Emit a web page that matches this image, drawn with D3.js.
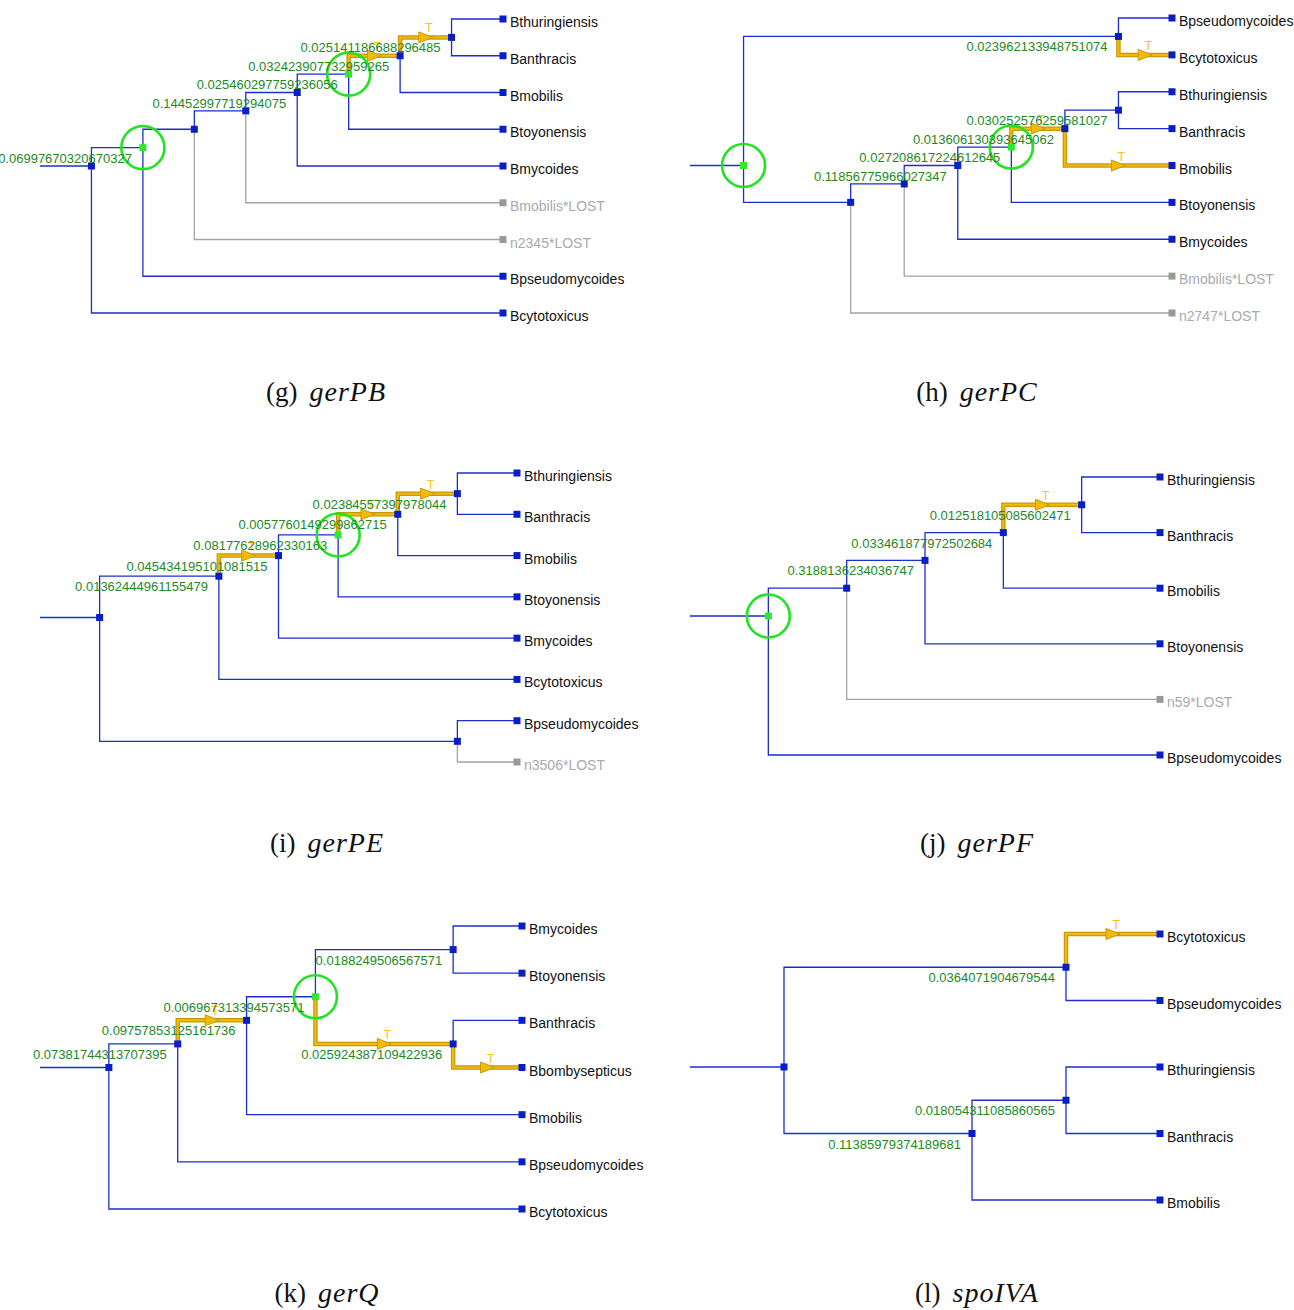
<!DOCTYPE html>
<html>
<head>
<meta charset="utf-8">
<script src="https://cdn.jsdelivr.net/npm/d3@7"></script>
<style>
  body { margin: 0; background: #fff; }
  svg { display: block; }
</style>
</head>
<body>
<svg id="chart" width="1294" height="1310"></svg>
<script>
// Gene trees: each row is [node, parent, branch value, event]
// event: "T" = transfer edge, "dup" = circled node, "lost" = lost leaf
const gerPB = [
  ["r", "", "", ""],
  ["n1", "r", "0.06997670320670327", "dup"],
  ["n2", "n1", "", ""],
  ["n3", "n2", "", ""],
  ["n4", "n3", "0.14452997719294075", ""],
  ["n5", "n4", "0.025460297759236056", "dup"],
  ["n6", "n5", "0.032423907732959265", "T"],
  ["n7", "n6", "0.025141186688296485", "T"],
  ["Bthuringiensis", "n7", "", ""],
  ["Banthracis", "n7", "", ""],
  ["Bmobilis", "n6", "", ""],
  ["Btoyonensis", "n5", "", ""],
  ["Bmycoides", "n4", "", ""],
  ["Bmobilis*LOST", "n3", "", "lost"],
  ["n2345*LOST", "n2", "", "lost"],
  ["Bpseudomycoides", "n1", "", ""],
  ["Bcytotoxicus", "r", "", ""]
];

const gerPC = [
  ["r", "", "", "dup"],
  ["a", "r", "0.023962133948751074", ""],
  ["Bpseudomycoides", "a", "", ""],
  ["Bcytotoxicus", "a", "", "T"],
  ["b", "r", "", ""],
  ["c", "b", "", ""],
  ["d", "c", "0.11856775966027347", ""],
  ["e", "d", "0.027208617224612645", "dup"],
  ["f", "e", "0.013606130393645062", "T"],
  ["g", "f", "0.030252576259581027", ""],
  ["Bthuringiensis", "g", "", ""],
  ["Banthracis", "g", "", ""],
  ["Bmobilis", "f", "", "T"],
  ["Btoyonensis", "e", "", ""],
  ["Bmycoides", "d", "", ""],
  ["Bmobilis*LOST", "c", "", "lost"],
  ["n2747*LOST", "b", "", "lost"]
];

const gerPE = [
  ["r", "", "", ""],
  ["a", "r", "0.01362444961155479", ""],
  ["b", "a", "0.045434195101081515", "T"],
  ["c", "b", "0.08177628962330163", "dup"],
  ["d", "c", "0.0057760149299862715", "T"],
  ["e", "d", "0.02384557397978044", "T"],
  ["Bthuringiensis", "e", "", ""],
  ["Banthracis", "e", "", ""],
  ["Bmobilis", "d", "", ""],
  ["Btoyonensis", "c", "", ""],
  ["Bmycoides", "b", "", ""],
  ["Bcytotoxicus", "a", "", ""],
  ["f", "r", "", ""],
  ["Bpseudomycoides", "f", "", ""],
  ["n3506*LOST", "f", "", "lost"]
];

const gerPF = [
  ["r", "", "", "dup"],
  ["a", "r", "", ""],
  ["b", "a", "0.3188136234036747", ""],
  ["c", "b", "0.033461877972502684", ""],
  ["d", "c", "0.012518105085602471", "T"],
  ["Bthuringiensis", "d", "", ""],
  ["Banthracis", "d", "", ""],
  ["Bmobilis", "c", "", ""],
  ["Btoyonensis", "b", "", ""],
  ["n59*LOST", "a", "", "lost"],
  ["Bpseudomycoides", "r", "", ""]
];

const gerQ = [
  ["r", "", "", ""],
  ["a", "r", "0.07381744313707395", ""],
  ["b", "a", "0.09757853125161736", "T"],
  ["c", "b", "0.006967313394573571", "dup"],
  ["d", "c", "0.0188249506567571", ""],
  ["Bmycoides", "d", "", ""],
  ["Btoyonensis", "d", "", ""],
  ["e", "c", "0.025924387109422936", "T"],
  ["Banthracis", "e", "", ""],
  ["Bbombysepticus", "e", "", "T"],
  ["Bmobilis", "b", "", ""],
  ["Bpseudomycoides", "a", "", ""],
  ["Bcytotoxicus", "r", "", ""]
];

const spoIVA = [
  ["r", "", "", ""],
  ["a", "r", "0.0364071904679544", ""],
  ["Bcytotoxicus", "a", "", "T"],
  ["Bpseudomycoides", "a", "", ""],
  ["b", "r", "0.11385979374189681", ""],
  ["c", "b", "0.018054311085860565", ""],
  ["Bthuringiensis", "c", "", ""],
  ["Banthracis", "c", "", ""],
  ["Bmobilis", "b", "", ""]
];

const genes = ["gerPB", "gerPC", "gerPE", "gerPF", "gerQ", "spoIVA"];
const tags = ["g", "h", "i", "j", "k", "l"];

// panel placement
const panels = [
  { rows: gerPB, x0: 40, leafX: 503, yTop: 19, yBot: 313, capX: 326, capY: 401 },
  { rows: gerPC, x0: 690, leafX: 1172, yTop: 18, yBot: 313, capX: 977, capY: 401 },
  { rows: gerPE, x0: 40, leafX: 517, yTop: 473, yBot: 762, capX: 327, capY: 852 },
  { rows: gerPF, x0: 690, leafX: 1160, yTop: 477, yBot: 755, capX: 977, capY: 852 },
  { rows: gerQ, x0: 40, leafX: 522, yTop: 926, yBot: 1209, capX: 327, capY: 1302 },
  { rows: spoIVA, x0: 690, leafX: 1160, yTop: 934, yBot: 1200, capX: 977, capY: 1302 }
];

const BLUE = "#1a2fd0";
const MARK = "#0a1ec8";
const GREY = "#a3a3a3";
const GOLD_DARK = "#c99a06";
const GOLD = "#f2bb0c";
const LABEL_GREEN = "#23891f";
const sans = "'Liberation Sans', Arial, sans-serif";

const svg = d3.select("#chart");

function drawTree(p, k) {
  const root = d3.stratify()
    .id(d => d[0])
    .parentId(d => d[1])(p.rows);

  const leaves = root.leaves();
  const y = d3.scaleLinear().domain([0, leaves.length - 1]).range([p.yTop, p.yBot]);
  const x = d3.scaleLinear().domain([leaves.length, 0]).range([p.x0, p.leafX]);

  leaves.forEach((l, i) => { l.py = y(i); });
  root.eachAfter(n => {
    if (n.children) n.py = d3.mean(n.leaves(), l => l.py);
  });
  root.each(n => { n.px = x(n.leaves().length - 1); });

  const g = svg.append("g").attr("class", "tree-" + genes[k]);
  const ev = n => n.data[3];
  const links = root.descendants().filter(n => n.parent);
  const elbow = n => `M${n.parent.px},${n.parent.py}V${n.py}H${n.px}`;

  // stub into the root
  g.append("line")
    .attr("x1", x(leaves.length)).attr("x2", root.px)
    .attr("y1", root.py).attr("y2", root.py)
    .attr("stroke", BLUE).attr("stroke-width", 1.3);

  // plain and lost branches
  g.append("g").selectAll("path")
    .data(links.filter(n => ev(n) !== "T"))
    .join("path")
    .attr("d", elbow)
    .attr("fill", "none")
    .attr("stroke", n => ev(n) === "lost" ? GREY : BLUE)
    .attr("stroke-width", 1.3);

  // transfer branches
  const tr = links.filter(n => ev(n) === "T");
  g.append("g").selectAll("path")
    .data(tr).join("path")
    .attr("d", elbow).attr("fill", "none")
    .attr("stroke", GOLD_DARK).attr("stroke-width", 4.5);
  g.append("g").selectAll("path")
    .data(tr).join("path")
    .attr("d", elbow).attr("fill", "none")
    .attr("stroke", GOLD).attr("stroke-width", 2);

  const mid = n => (n.parent.px + n.px) / 2;
  g.append("g").selectAll("path")
    .data(tr).join("path")
    .attr("d", n => {
      const m = mid(n);
      return `M${m - 7},${n.py - 5.5}L${m + 7},${n.py}L${m - 7},${n.py + 5.5}Z`;
    })
    .attr("fill", GOLD).attr("stroke", GOLD_DARK).attr("stroke-width", 1);

  g.append("g").selectAll("text")
    .data(tr).join("text")
    .attr("x", n => mid(n) + 3)
    .attr("y", n => n.py - 5)
    .attr("text-anchor", "middle")
    .attr("font-family", sans).attr("font-size", 12.5)
    .attr("fill", "#ffc21a")
    .text("T");

  // node markers
  g.append("g").selectAll("rect")
    .data(root.descendants()).join("rect")
    .attr("x", n => n.px - 3.5).attr("y", n => n.py - 3.5)
    .attr("width", 7).attr("height", 7)
    .attr("fill", n => ev(n) === "lost" ? "#999" : ev(n) === "dup" ? "#2ee82e" : MARK);

  // circled nodes
  g.append("g").selectAll("circle")
    .data(root.descendants().filter(n => ev(n) === "dup"))
    .join("circle")
    .attr("cx", n => n.px).attr("cy", n => n.py).attr("r", 21.5)
    .attr("fill", "none").attr("stroke", "#1fe41f").attr("stroke-width", 2.6);

  // branch values
  g.append("g").selectAll("text")
    .data(root.descendants().filter(n => n.data[2]))
    .join("text")
    .attr("x", n => n.px - 11)
    .attr("y", n => n.py + 15)
    .attr("text-anchor", "end")
    .attr("font-family", sans).attr("font-size", 13)
    .attr("fill", LABEL_GREEN)
    .text(n => n.data[2]);

  // leaf names
  g.append("g").selectAll("text")
    .data(leaves).join("text")
    .attr("x", n => n.px + 7)
    .attr("y", n => n.py + 8)
    .attr("font-family", sans).attr("font-size", 14)
    .attr("fill", n => ev(n) === "lost" ? "#aaa" : "#111")
    .text(n => n.id);

  // caption
  const cap = svg.append("text")
    .attr("x", p.capX).attr("y", p.capY)
    .attr("text-anchor", "middle")
    .attr("font-family", "'Liberation Serif', 'Times New Roman', serif")
    .attr("font-size", 27)
    .attr("fill", "#111");
  cap.append("tspan").text("(" + tags[k] + ")");
  cap.append("tspan").attr("dx", 12).attr("font-style", "italic")
    .attr("font-size", 28).attr("letter-spacing", 1).text(genes[k]);
}

panels.forEach(drawTree);
</script>
</body>
</html>
